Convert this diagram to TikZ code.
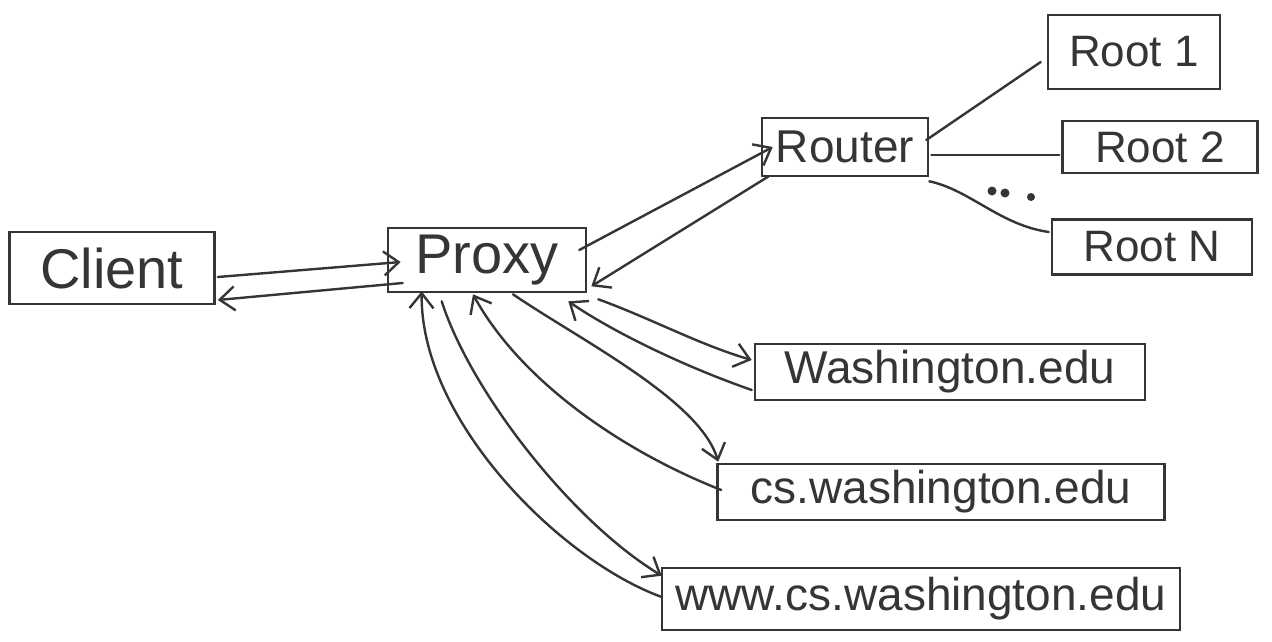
\documentclass[tikz,border=0pt]{standalone}
\usepackage{fontspec}
\setmainfont{Liberation Sans}
\usetikzlibrary{arrows.meta,calc}
\definecolor{ink}{HTML}{353535}
\begin{document}
\begin{tikzpicture}[x=1pt,y=1pt,
  box/.style={draw=ink,line width=2.6pt,rectangle,inner sep=0pt,text=ink},
  big/.style={font=\fontsize{56}{60}\selectfont},
  mid/.style={font=\fontsize{46}{50}\selectfont},
  small/.style={font=\fontsize{44}{48}\selectfont},
  conn/.style={draw=ink,line width=2.4pt,line cap=round},
  arr/.style={conn,-{Straight Barb[length=15pt,width=24pt,line width=2.4pt]}}]
\useasboundingbox (0,0) rectangle (1272,-642);
% nodes
\node[box,big,minimum width=205,minimum height=72] (client) at (112,-268) {Client};
\node[box,big,minimum width=198,minimum height=64] (proxy) at (487,-260) {Proxy};
\node[box,mid,minimum width=166,minimum height=58] (router) at (845,-147) {Router};
\node[box,small,minimum width=172,minimum height=74] (root1) at (1134,-52) {Root 1};
\node[box,small,minimum width=195,minimum height=52] (root2) at (1160,-147) {Root 2};
\node[box,small,minimum width=200,minimum height=55] (rootn) at (1152,-247) {Root N};
\node[box,mid,minimum width=390,minimum height=56] (wash) at (950,-372) {Washington.edu};
\node[box,mid,minimum width=447,minimum height=56] (cs) at (941,-492) {cs.washington.edu};
\node[box,mid,minimum width=518,minimum height=62] (www) at (921,-599) {www.cs.washington.edu};
% client <-> proxy
\draw[arr] ($(client.east)+(2,-9)$) -- ($(proxy.west)+(14,-2)$);
\draw[arr] ($(proxy.west)+(16,-23)$) -- ($(client.east)+(2,-32)$);
% proxy <-> router
\draw[arr] ($(proxy.east)+(-8,10)$) -- ($(router.west)+(12,0)$);
\draw[arr] ($(router.south west)+(8,1)$) -- ($(proxy.south east)+(4,7)$);
% router to roots
\draw[conn] ($(router.east)+(-3,7)$) -- ($(root1.west)+(-6,-10)$);
\draw[conn] ($(router.east)+(2,-8)$) -- ($(root2.west)+(-2,-8)$);
\draw[conn] ($(router.south east)+(0,-4)$) .. controls (970,-190) and (1000,-225) .. ($(rootn.west)+(-2,15)$);
\fill[ink] (992,-191) circle (4.5) (1005,-193) circle (4.5) (1031,-197) circle (4);
% proxy <-> washington.edu
\draw[arr] ($(proxy.south east)+(11,-6)$) .. controls (650,-318) and (700,-345) .. ($(wash.west)+(-2,12)$);
\draw[arr] ($(wash.west)+(-2,-18)$) .. controls (680,-365) and (610,-330) .. ($(proxy.south east)+(-19,-8)$);
% proxy <-> cs.washington.edu
\draw[arr] ($(proxy.south)+(26,-1)$) .. controls (580,-340) and (700,-400) .. ($(cs.north west)+(2,1)$);
\draw[arr] ($(cs.west)+(5,2)$) .. controls (620,-450) and (520,-380) .. ($(proxy.south)+(-14,-1)$);
% proxy <-> www.cs.washington.edu
\draw[arr] ($(proxy.south west)+(55,-8)$) .. controls (470,-390) and (570,-520) .. ($(www.north west)+(1,-9)$);
\draw[arr] ($(www.west)+(1,2)$) .. controls (560,-560) and (420,-420) .. ($(proxy.south west)+(35,2)$);
\end{tikzpicture}
\end{document}
